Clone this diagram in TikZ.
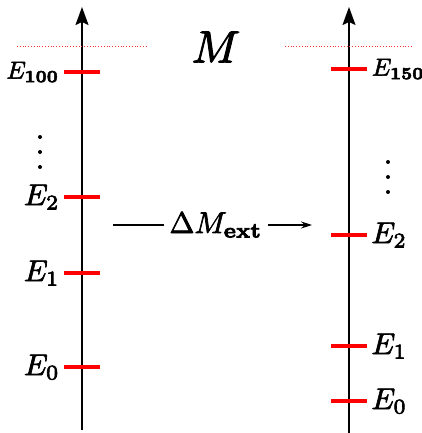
\documentclass[tikz,border=0pt]{standalone}
\usetikzlibrary{arrows.meta, positioning}
\tikzset{
  axisline/.style={line width=1.7pt, -{Stealth[length=18pt, width=13pt, inset=3pt]}},
  lvl/.style={draw=red, line width=3.5pt},
  heavy/.style={execute at begin node={\special{pdf:literal direct 2 Tr 0.22 w}},
                execute at end node={\special{pdf:literal direct 0 Tr}}},
  elbl/.style={heavy, scale=3, inner sep=0.6pt},
  hilbl/.style={heavy, scale=2.45, inner sep=0.6pt},
  toplbl/.style={heavy, scale=4.5, inner sep=0pt},
  limit/.style={draw=red!80, line width=1pt, dash pattern=on 1pt off 1.8pt},
  arr/.style={line width=1.1pt, -{Stealth[length=11pt, width=7pt]}}
}

\begin{document}
\begin{tikzpicture}[x=1pt, y=-1pt]
  \useasboundingbox (0,0) rectangle (422,433);

  % energy axes
  \coordinate (lbot) at (82,430);
  \coordinate (ltop) at (82,7);
  \coordinate (rbot) at (349,433);
  \coordinate (rtop) at (349,7);
  \draw[axisline] (lbot) -- (ltop);
  \draw[axisline] (rbot) -- (rtop);

  % mass threshold
  \node[toplbl] (M) at (216,47) {$M$};
  \coordinate (mla) at (17,47);
  \coordinate (mlb) at (146,47);
  \coordinate (mra) at (285,47);
  \coordinate (mrb) at (412,47);
  \draw[limit] (mla) -- (mlb);
  \draw[limit] (mra) -- (mrb);

  % left spectrum
  \coordinate (L100) at (82,72);
  \coordinate (L2)   at (82,197);
  \coordinate (L1)   at (82,273);
  \coordinate (L0)   at (82,367);
  \draw[lvl] ([xshift=-18pt]L100) -- ([xshift=18pt]L100);
  \draw[lvl] ([xshift=-18pt]L2)   -- ([xshift=18pt]L2);
  \draw[lvl] ([xshift=-18pt]L1)   -- ([xshift=18pt]L1);
  \draw[lvl] ([xshift=-18pt]L0)   -- ([xshift=18pt]L0);
  \node[hilbl, left=21pt of L100] (eL100) {$E_{\mathbf{100}}$};
  \node[elbl, left=20pt of L2]    (eL2)   {$E_2$};
  \node[elbl, left=20pt of L1]    (eL1)   {$E_1$};
  \node[elbl, left=20pt of L0]    (eL0)   {$E_0$};
  \foreach \y in {137,152,167} \fill (40,\y) circle (2pt);

  % right spectrum
  \coordinate (R150) at (349,69);
  \coordinate (R2)   at (349,235);
  \coordinate (R1)   at (349,346);
  \coordinate (R0)   at (349,401);
  \draw[lvl] ([xshift=-18pt]R150) -- ([xshift=18pt]R150);
  \draw[lvl] ([xshift=-18pt]R2)   -- ([xshift=18pt]R2);
  \draw[lvl] ([xshift=-18pt]R1)   -- ([xshift=18pt]R1);
  \draw[lvl] ([xshift=-18pt]R0)   -- ([xshift=18pt]R0);
  \node[hilbl, right=21pt of R150] (eR150) {$E_{\mathbf{150}}$};
  \node[elbl, right=20pt of R2]    (eR2)   {$E_2$};
  \node[elbl, right=20pt of R1]    (eR1)   {$E_1$};
  \node[elbl, right=20pt of R0]    (eR0)   {$E_0$};
  \foreach \y in {162,177,192} \fill (388,\y) circle (2pt);

  % external shift
  \node[elbl, inner xsep=1.7pt] (dM) at (216,225) {$\Delta M_{\mathbf{ext}}$};
  \coordinate (sa) at (113,225);
  \coordinate (sb) at (312,225);
  \draw[line width=1.1pt] (sa) -- (dM);
  \draw[arr] (dM) -- (sb);

\end{tikzpicture}
\end{document}
